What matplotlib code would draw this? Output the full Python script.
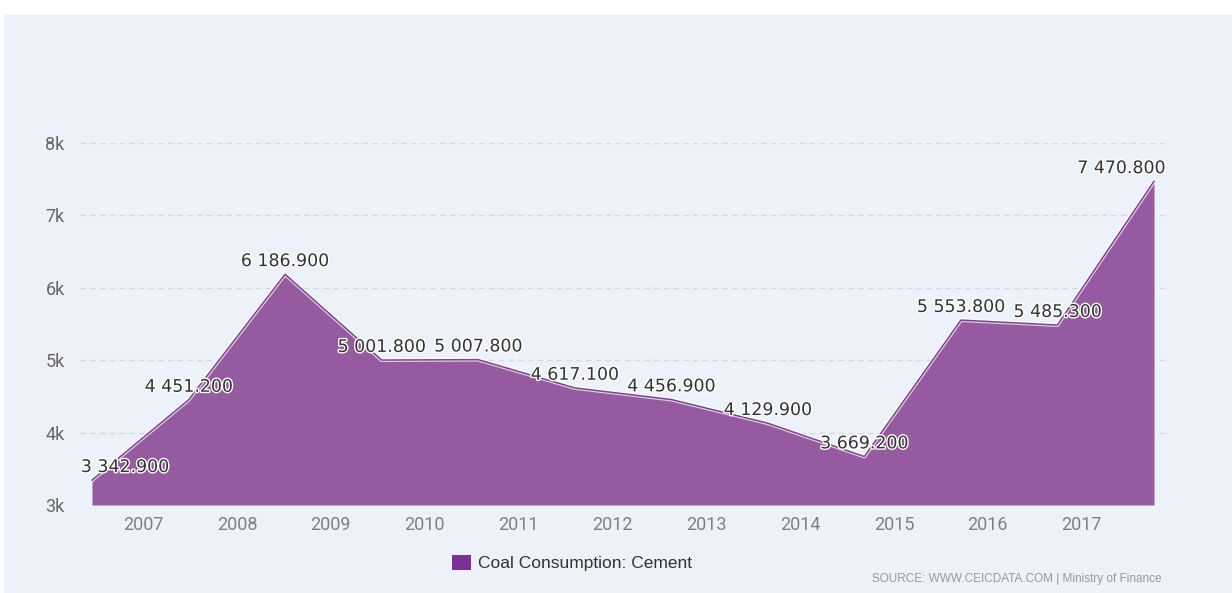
import numpy as np
import matplotlib.pyplot as plt
import matplotlib.patheffects as pe
from matplotlib.patches import Patch, Rectangle

# Coal consumption by the cement industry (thousand tonnes)
valores = [3342.9, 4451.2, 6186.9, 5001.8, 5007.8, 4617.1,
           4456.9, 4129.9, 3669.2, 5553.8, 5485.3, 7470.8]
anios = ['2007', '2008', '2009', '2010', '2011', '2012',
         '2013', '2014', '2015', '2016', '2017']
ticks_y = [3000, 4000, 5000, 6000, 7000, 8000]
etiquetas_y = ['3k', '4k', '5k', '6k', '7k', '8k']

morado = '#955AA0'
fondo = '#EDF1F9'

def formato(v):
    # separador de miles con espacio, tres decimales
    s = '%.3f' % v
    ent, dec = s.split('.')
    return ent[:-3] + ' ' + ent[-3:] + '.' + dec

fig = plt.figure(figsize=(12.32, 5.93), dpi=100)
fig.patch.set_facecolor('white')
# panel de fondo
fig.patches.append(Rectangle((4 / 1232, 0), 1, 1 - 15 / 593, transform=fig.transFigure,
                             facecolor=fondo, edgecolor='none', zorder=-10))

ax = fig.add_axes([80 / 1232, 1 - 505 / 593, (1165 - 80) / 1232, (505 - 143) / 593])
ax.set_facecolor('none')

x = np.arange(len(valores))
ax.fill_between(x, valores, 3000, color=morado, linewidth=0, zorder=2)
ax.plot(x, valores, color='#7A4588', linewidth=1.1, zorder=3,
        path_effects=[pe.Stroke(linewidth=2.8, foreground='white', alpha=0.7), pe.Normal()])

ax.set_xlim(-0.124, len(valores) - 1 + 0.114)
ax.set_ylim(3000, 8000)

ax.set_yticks(ticks_y)
ax.set_yticklabels(etiquetas_y, fontfamily='Roboto', fontsize=13, color='#666666')
pos_anios = np.linspace(0.53, 10.25, len(anios))
ax.set_xticks(pos_anios)
ax.set_xticklabels(anios, fontfamily='Roboto', fontsize=13, color='#808080')
ax.tick_params(axis='y', length=0, pad=11)
ax.tick_params(axis='x', length=0, pad=8)

for y in ticks_y[1:]:
    ax.axhline(y, color='#D5D9E0', linewidth=1, linestyle=(0, (4, 3)), zorder=1)

for s in ax.spines.values():
    s.set_visible(False)

# etiquetas de valor sobre cada punto
n = len(valores)
for i, v in enumerate(valores):
    ha = 'center'
    dx = 0
    if i == 0:
        ha, dx = 'left', -8
    elif i == n - 1:
        ha, dx = 'right', 8
    ax.annotate(formato(v), xy=(i, v), xytext=(dx, 3), textcoords='offset points',
                ha=ha, va='bottom', fontsize=12.5, color='#333333', zorder=5,
                fontfamily='DejaVu Sans',
                path_effects=[pe.withStroke(linewidth=2, foreground='white')])

# leyenda
fig.legend(handles=[Patch(facecolor='#7B3294', edgecolor='none')],
           labels=['Coal Consumption: Cement'],
           loc='center', bbox_to_anchor=(572 / 1232, 1 - 563 / 593),
           frameon=False, handlelength=1.1, handleheight=1.0, handletextpad=0.4,
           prop={'family': 'Liberation Sans', 'size': 12.5}, labelcolor='#333333')

fig.text(1162 / 1232, 1 - 579 / 593, 'SOURCE: WWW.CEICDATA.COM | Ministry of Finance',
         ha='right', va='center', fontsize=8.5, color='#9A9A9A', fontfamily='Liberation Sans')

fig.savefig('out.png', dpi=100, facecolor=fig.get_facecolor())
